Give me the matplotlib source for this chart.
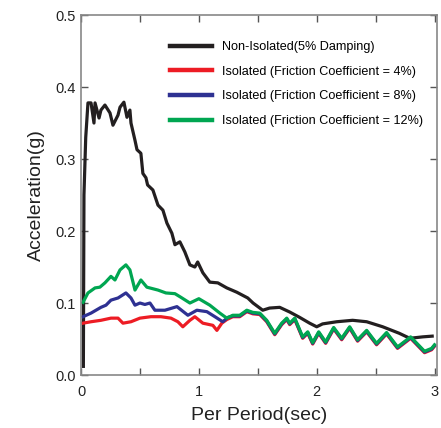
import matplotlib
matplotlib.use("Agg")
import matplotlib.pyplot as plt
from matplotlib.ticker import MultipleLocator

plt.rcParams['font.family'] = ['Liberation Sans', 'DejaVu Sans']

# Non-isolated (5% damping)
period_non = [0.02, 0.025, 0.04, 0.059, 0.085, 0.11, 0.119, 0.153, 0.169, 0.203, 0.246, 0.271,
              0.314, 0.331, 0.364, 0.39, 0.415, 0.424, 0.458, 0.475, 0.508, 0.525, 0.551, 0.565,
              0.61, 0.653, 0.695, 0.729, 0.771, 0.797, 0.839, 0.881, 0.924, 0.966, 0.99, 1.034,
              1.093, 1.161, 1.237, 1.322, 1.415, 1.46, 1.542, 1.60, 1.686, 1.771, 1.856, 1.94,
              2.0, 2.05, 2.17, 2.305, 2.424, 2.56, 2.70, 2.79, 2.90, 2.98]
acc_non = [0.012, 0.25, 0.33, 0.378, 0.378, 0.35, 0.378, 0.357, 0.368, 0.375, 0.364, 0.347,
           0.361, 0.372, 0.379, 0.358, 0.368, 0.35, 0.326, 0.313, 0.308, 0.28, 0.274, 0.264,
           0.257, 0.236, 0.229, 0.211, 0.197, 0.181, 0.185, 0.171, 0.153, 0.15, 0.157, 0.142,
           0.129, 0.128, 0.121, 0.115, 0.107, 0.1, 0.09, 0.093, 0.094, 0.0875, 0.08, 0.072,
           0.067, 0.071, 0.074, 0.076, 0.074, 0.067, 0.058, 0.051, 0.053, 0.054]

# Isolated, friction coefficient 12%
period_12 = [0.017, 0.059, 0.119, 0.16, 0.203, 0.254, 0.288, 0.331, 0.381, 0.415, 0.458, 0.508,
             0.559, 0.653, 0.72, 0.797, 0.847, 0.924, 1.0, 1.093, 1.178, 1.237, 1.288, 1.347,
             1.407, 1.458, 1.517, 1.576, 1.644, 1.703, 1.746, 1.771, 1.814, 1.881, 1.924, 1.966,
             2.017, 2.076, 2.144, 2.212, 2.28, 2.347, 2.424, 2.508, 2.593, 2.686, 2.797, 2.915,
             2.975, 3.0]
acc_12 = [0.101, 0.114, 0.121, 0.122, 0.128, 0.137, 0.132, 0.146, 0.153, 0.146, 0.118, 0.132,
          0.122, 0.118, 0.114, 0.113, 0.108, 0.1, 0.106, 0.097, 0.086, 0.079, 0.083, 0.083,
          0.09, 0.087, 0.086, 0.076, 0.058, 0.072, 0.079, 0.072, 0.079, 0.053, 0.06, 0.045,
          0.06, 0.046, 0.066, 0.051, 0.067, 0.049, 0.062, 0.044, 0.059, 0.039, 0.053, 0.033,
          0.037, 0.042]

# Isolated, friction coefficient 8%
period_8 = [0.017, 0.085, 0.169, 0.212, 0.254, 0.314, 0.381, 0.424, 0.458, 0.5, 0.542, 0.585,
            0.627, 0.712, 0.814, 0.907, 0.983, 1.068, 1.136, 1.203, 1.246, 1.288, 1.347,
            1.407, 1.458, 1.517, 1.576, 1.644, 1.703, 1.746, 1.771, 1.814, 1.881, 1.924, 1.966,
            2.017, 2.076, 2.144, 2.212, 2.28, 2.347, 2.424, 2.508, 2.593, 2.686, 2.797, 2.915,
            2.975, 3.0]
acc_8 = [0.081, 0.086, 0.094, 0.097, 0.104, 0.107, 0.114, 0.107, 0.097, 0.1, 0.098, 0.1,
         0.09, 0.09, 0.095, 0.083, 0.09, 0.088, 0.081, 0.074, 0.080, 0.082, 0.082,
         0.089, 0.086, 0.085, 0.075, 0.057, 0.071, 0.078, 0.071, 0.078, 0.052, 0.059, 0.044,
         0.059, 0.045, 0.065, 0.050, 0.066, 0.048, 0.061, 0.043, 0.058, 0.038, 0.052, 0.032,
         0.036, 0.041]

# Isolated, friction coefficient 4%
period_4 = [0.017, 0.085, 0.169, 0.254, 0.314, 0.356, 0.424, 0.5, 0.593, 0.678, 0.763, 0.822,
            0.864, 0.924, 0.966, 1.034, 1.119, 1.153, 1.195, 1.237, 1.288, 1.347,
            1.407, 1.458, 1.517, 1.576, 1.644, 1.703, 1.746, 1.771, 1.814, 1.881, 1.924, 1.966,
            2.017, 2.076, 2.144, 2.212, 2.28, 2.347, 2.424, 2.508, 2.593, 2.686, 2.797, 2.915,
            2.975, 3.0]
acc_4 = [0.072, 0.074, 0.076, 0.079, 0.079, 0.072, 0.074, 0.079, 0.081, 0.081, 0.079, 0.074,
         0.067, 0.076, 0.081, 0.072, 0.069, 0.062, 0.072, 0.077, 0.081, 0.081,
         0.088, 0.085, 0.084, 0.074, 0.056, 0.070, 0.077, 0.070, 0.077, 0.051, 0.058, 0.043,
         0.058, 0.044, 0.064, 0.049, 0.065, 0.047, 0.060, 0.042, 0.057, 0.037, 0.051, 0.031,
         0.035, 0.040]

x_ticks = [0, 1, 2, 3]
x_ticklabels = ['0', '1', '2', '3']
y_ticks = [0.0, 0.1, 0.2, 0.3, 0.4, 0.5]
y_ticklabels = ['0.0', '0.1', '0.2', '0.3', '0.4', '0.5']

labels = ["Non-Isolated(5% Damping)",
          "Isolated (Friction Coefficient = 4%)",
          "Isolated (Friction Coefficient = 8%)",
          "Isolated (Friction Coefficient = 12%)"]
colors = ['#231f20', '#ed1c24', '#2e3192', '#00a651']

fig = plt.figure(figsize=(4.41, 4.28), dpi=100)
ax = fig.add_axes([0.1837, 0.1238, 0.807, 0.841])

lw = 2.3
ax.plot(period_non, acc_non, color=colors[0], lw=lw, label=labels[0], solid_joinstyle='round')
ax.plot(period_4, acc_4, color=colors[1], lw=lw, label=labels[1], solid_joinstyle='round')
ax.plot(period_8, acc_8, color=colors[2], lw=lw, label=labels[2], solid_joinstyle='round')
ax.plot(period_12, acc_12, color=colors[3], lw=lw, label=labels[3], solid_joinstyle='round')

ax.set_xlim(0, 3.02)
ax.set_ylim(0, 0.5)
ax.set_xticks(x_ticks)
ax.set_xticklabels(x_ticklabels, rotation=0)
ax.xaxis.set_minor_locator(MultipleLocator(0.5))
ax.set_yticks(y_ticks)
ax.set_yticklabels(y_ticklabels, rotation=0)

ax.tick_params(which='both', direction='in', top=True, right=True, length=5,
               width=1.0, color='#555555', labelsize=10.5, labelcolor='#222222')
ax.tick_params(axis='x', pad=7)
for s in ax.spines.values():
    s.set_color('#888888')
    s.set_linewidth(1.2)

ax.set_xlabel('Per Period(sec)', fontsize=14, color='#222222', labelpad=6)
ax.set_ylabel('Acceleration(g)', fontsize=14, color='#222222', labelpad=8)

leg = ax.legend(loc='upper right', bbox_to_anchor=(0.985, 0.952), frameon=False,
                fontsize=9.1, handlelength=3.3, handletextpad=0.75, labelspacing=1.0,
                borderaxespad=0.3)
for line in leg.get_lines():
    line.set_linewidth(3.2)

fig.savefig('out.png', dpi=100)
